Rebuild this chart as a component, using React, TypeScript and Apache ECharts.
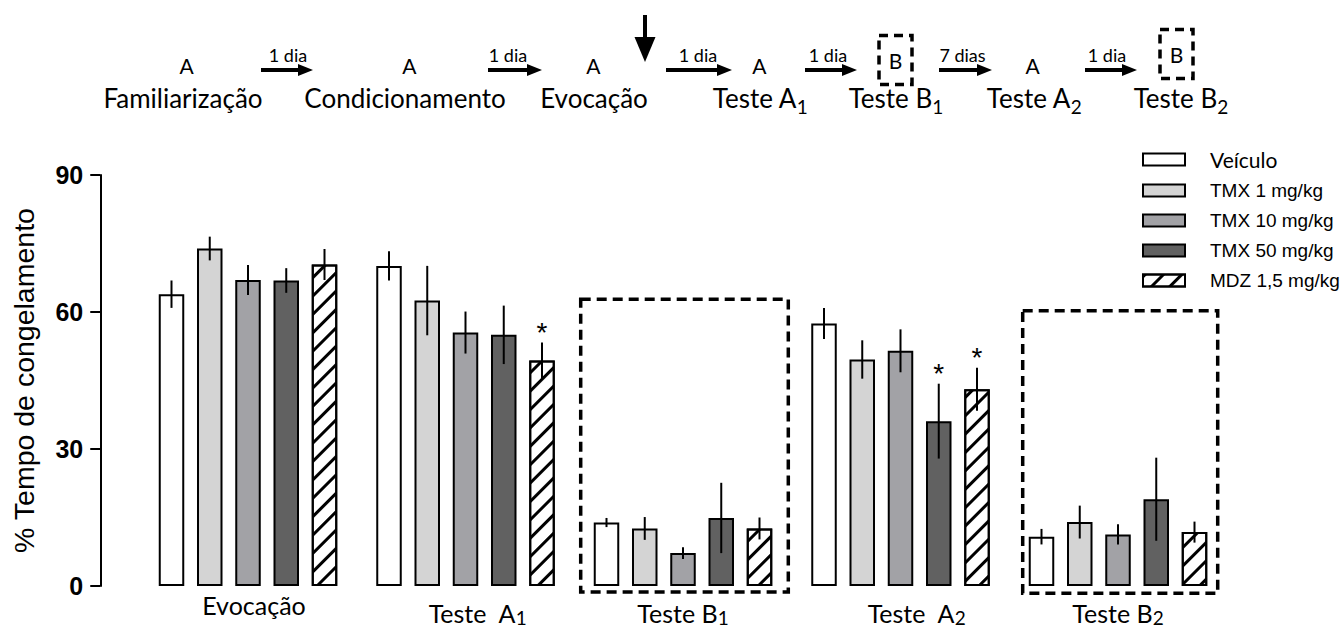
import React, { useEffect, useRef } from 'react';
import * as echarts from 'echarts';

// ---------- data ----------
const categories = ['Evocação', 'Teste  A1', 'Teste B1', 'Teste  A2', 'Teste B2'];
const categoryMain = ['Evocação', 'Teste  A', 'Teste B', 'Teste  A', 'Teste B'];
const categorySub = ['', '1', '1', '2', '2'];
const groupNames = ['Veículo', 'TMX 1 mg/kg', 'TMX 10 mg/kg', 'TMX 50 mg/kg', 'MDZ 1,5 mg/kg'];

const veiculoMean = [63.9, 70.1, 13.9, 57.5, 10.8];
const veiculoSem = [3.0, 3.2, 1.0, 3.4, 1.7];
const tmx1Mean = [73.9, 62.5, 12.6, 49.6, 14.0];
const tmx1Sem = [2.6, 7.6, 2.5, 4.2, 3.6];
const tmx10Mean = [67.0, 55.5, 7.2, 51.5, 11.3];
const tmx10Sem = [3.3, 4.6, 1.3, 4.7, 2.2];
const tmx50Mean = [66.9, 55.0, 14.9, 36.1, 19.0];
const tmx50Sem = [2.7, 6.4, 7.7, 8.2, 9.1];
const mdzMean = [70.4, 49.4, 12.6, 43.1, 11.8];
const mdzSem = [3.4, 3.9, 2.4, 4.7, 2.3];

// significance marks (*) per group, per category
const veiculoSig = [0, 0, 0, 0, 0];
const tmx1Sig = [0, 0, 0, 0, 0];
const tmx10Sig = [0, 0, 0, 0, 0];
const tmx50Sig = [0, 0, 0, 1, 0];
const mdzSig = [0, 1, 0, 1, 0];

const yTicks = [0, 30, 60, 90];

// timeline (protocol) texts
const timelineContexts = ['A', 'A', 'A', 'A', 'B', 'A', 'B'];
const timelineStages = ['Familiarização', 'Condicionamento', 'Evocação', 'Teste A', 'Teste B', 'Teste A', 'Teste B'];
const timelineSubs = ['', '', '', '1', '1', '2', '2'];
const timelineIntervals = ['1 dia', '1 dia', '1 dia', '1 dia', '7 dias', '1 dia'];

// dashed boxes around the context-B tests (category index, top value, bottom value)
const boxCategories = [2, 4];
const boxTopValues = [62.8, 60.3];
const boxBottomValues = [-1.3, -1.6];

// ---------- layout / styles ----------
const means = [veiculoMean, tmx1Mean, tmx10Mean, tmx50Mean, mdzMean];
const sems = [veiculoSem, tmx1Sem, tmx10Sem, tmx50Sem, mdzSem];
const sigs = [veiculoSig, tmx1Sig, tmx10Sig, tmx50Sig, mdzSig];
const colors = ['#ffffff', '#d4d4d4', '#a2a2a6', '#616161', '#ffffff'];
const BAR_W = 25.5;
const BAR_GAP = '50%';

const stageX = [183, 405, 594, 760, 896, 1034, 1181];
const contextX = [186.7, 409.3, 593.3, 759.3, 895.5, 1032.7, 1176.5];
const contextY = [65, 65, 65, 65, 60, 65, 54];
const arrowX = [[261, 313], [488, 542], [666, 732], [805, 857], [939, 992], [1085, 1137]];
const intervalX = [288, 508, 698, 828, 962.5, 1107];
const boxLeftPx = [-102.3, -95.3];
const boxRightPx = [105.3, 99.7];
const labelPadLeft = [12, 24, 0, 32, 0];

const CAL = 'Lato, Carlito, Calibri, sans-serif';
const ARIAL = '"Liberation Sans", Arial, sans-serif';

function buildTimeline(): any[] {
  const els: any[] = [];
  timelineStages.forEach((st, i) => {
    const sub = timelineSubs[i];
    els.push({
      type: 'text',
      x: stageX[i],
      y: 80,
      style: {
        text: sub ? `{m|${st}}{s|${sub}}` : `{m|${st}}`,
        align: 'center',
        verticalAlign: 'top',
        fill: '#000',
        rich: {
          m: { fontSize: 26, fontFamily: CAL, lineHeight: 40, verticalAlign: 'top', padding: [4.5, 0, 0, 0], fill: '#000' },
          s: { fontSize: 19, fontFamily: CAL, lineHeight: 40, verticalAlign: 'top', padding: [16.5, 0, 0, 0], fill: '#000' },
        },
      },
    });
    els.push({
      type: 'text',
      x: contextX[i],
      y: contextY[i],
      style: {
        text: timelineContexts[i],
        fontSize: 21,
        fontFamily: CAL,
        fill: '#000',
        align: 'center',
        verticalAlign: 'middle',
      },
    });
    if (timelineContexts[i] === 'B') {
      els.push({
        type: 'rect',
        shape: { x: contextX[i] - 16.5, y: contextY[i] - 24.5, width: 33, height: 49 },
        style: { fill: 'none', stroke: '#000', lineWidth: 3.5, lineDash: [9, 6] },
      });
    }
  });
  timelineIntervals.forEach((t, i) => {
    const [x1, x2] = arrowX[i];
    els.push({
      type: 'line',
      shape: { x1, y1: 70, x2: x2 - 12, y2: 70 },
      style: { stroke: '#000', lineWidth: 4 },
    });
    els.push({
      type: 'polygon',
      shape: { points: [[x2 - 15, 64], [x2, 70], [x2 - 15, 76]] },
      style: { fill: '#000' },
    });
    els.push({
      type: 'text',
      x: intervalX[i],
      y: 54.5,
      style: { text: t, fontSize: 18, fontFamily: CAL, fill: '#000', align: 'center', verticalAlign: 'middle' },
    });
  });
  // down arrow (treatment)
  els.push({ type: 'line', shape: { x1: 645, y1: 15, x2: 645, y2: 40 }, style: { stroke: '#000', lineWidth: 4 } });
  els.push({ type: 'polygon', shape: { points: [[634.5, 37], [655.5, 37], [645, 62]] }, style: { fill: '#000' } });
  return els;
}

const hatch = {
  symbol: 'rect',
  symbolSize: 1,
  dashArrayX: [1, 0],
  dashArrayY: [3, 10],
  rotation: -Math.PI / 4,
  color: '#000',
};

export default function App() {
  const ref = useRef<HTMLDivElement>(null);
  useEffect(() => {
    document.body.style.margin = '0';
    const chart = echarts.init(ref.current as HTMLDivElement, null, { renderer: 'svg' });

    const errData: any[] = [];
    means.forEach((arr, k) => {
      arr.forEach((m, c) => {
        errData.push([c, k, m, sems[k][c], sigs[k][c]]);
      });
    });

    const barSeries = groupNames.map((name, k) => ({
      type: 'bar',
      name,
      data: means[k],
      barWidth: BAR_W,
      barGap: BAR_GAP,
      z: 2,
      itemStyle: {
        color: colors[k],
        borderColor: '#000',
        borderWidth: 2,
        ...(k === 4 ? { decal: hatch } : {}),
      },
    }));

    const labelRich: any = {
      s: { fontSize: 19, fontFamily: CAL, color: '#000', lineHeight: 35, verticalAlign: 'top', padding: [16, 0, 0, 0] },
    };
    categoryMain.forEach((_m, i) => {
      labelRich['m' + i] = {
        fontSize: 25,
        fontFamily: CAL,
        color: '#000',
        lineHeight: 35,
        verticalAlign: 'top',
        padding: [categorySub[i] ? 8 : 0, 0, 0, labelPadLeft[i]],
      };
    });

    const option: any = {
      animation: false,
      backgroundColor: '#fff',
      grid: { left: 139.25, right: 116.25, top: 175, bottom: 44, containLabel: false },
      legend: {
        orient: 'vertical',
        left: 1137,
        top: 144,
        icon: 'rect',
        itemWidth: 42,
        itemHeight: 12,
        itemGap: 11,
        selectedMode: false,
        data: groupNames,
        formatter: (n: string) => (n === 'Veículo' ? `{v|${n}}` : n),
        textStyle: {
          fontFamily: ARIAL,
          fontSize: 19,
          color: '#000',
          lineHeight: 18,
          padding: [0, 0, 0, 20],
          rich: { v: { fontFamily: CAL, fontSize: 21, color: '#000' } },
        },
      },
      xAxis: {
        type: 'category',
        data: categories,
        axisLine: { show: false },
        axisTick: { show: false },
        axisLabel: {
          margin: 6,
          formatter: (_v: string, i: number) => {
            const main = `{m${i}|${categoryMain[i]}}`;
            return categorySub[i] ? `${main}{s|${categorySub[i]}}` : main;
          },
          rich: labelRich,
        },
      },
      yAxis: {
        type: 'value',
        min: yTicks[0],
        max: yTicks[yTicks.length - 1],
        interval: yTicks[1] - yTicks[0],
        offset: 39,
        axisLine: { show: true, lineStyle: { color: '#000', width: 2 } },
        axisTick: { show: true, length: 10, lineStyle: { color: '#000', width: 2 } },
        axisLabel: { color: '#000', fontSize: 25, fontWeight: 'bold', fontFamily: ARIAL, margin: 17 },
        splitLine: { show: false },
        name: '% Tempo de congelamento',
        nameLocation: 'middle',
        nameGap: 62,
        nameTextStyle: { fontSize: 28.5, fontFamily: ARIAL, color: '#000' },
      },
      series: [
        ...barSeries,
        {
          type: 'custom',
          name: 'erro',
          data: errData,
          encode: { x: 0, y: 2 },
          z: 5,
          silent: true,
          renderItem: (_params: any, api: any) => {
            const cat = api.value(0);
            const k = api.value(1);
            const m = api.value(2);
            const e = api.value(3);
            const sig = api.value(4);
            const layout = api.barLayout({ count: 5, barWidth: BAR_W, barGap: BAR_GAP });
            const hi = api.coord([cat, m + e]);
            const lo = api.coord([cat, m - e]);
            const x = hi[0] + layout[k].offsetCenter;
            const children: any[] = [
              {
                type: 'line',
                shape: { x1: x, y1: hi[1], x2: x, y2: lo[1] },
                style: { stroke: '#000', lineWidth: 2 },
              },
            ];
            if (sig) {
              children.push({
                type: 'text',
                x,
                y: hi[1] - 10,
                style: { text: '*', fontSize: 28, fontFamily: ARIAL, fill: '#000', align: 'center', verticalAlign: 'middle' },
              });
            }
            return { type: 'group', children };
          },
        },
      ],
    };
    chart.setOption(option);

    const boxes = boxCategories.map((c, i) => {
      const cx = chart.convertToPixel({ xAxisIndex: 0 }, categories[c]) as number;
      const yTop = chart.convertToPixel({ yAxisIndex: 0 }, boxTopValues[i]) as number;
      const yBot = chart.convertToPixel({ yAxisIndex: 0 }, boxBottomValues[i]) as number;
      const x0 = cx + boxLeftPx[i];
      const x1 = cx + boxRightPx[i];
      return {
        type: 'rect',
        shape: { x: x0, y: yTop, width: x1 - x0, height: yBot - yTop },
        style: { fill: 'none', stroke: '#000', lineWidth: 3.5, lineDash: [10, 6] },
        z: 10,
      };
    });
    chart.setOption({ graphic: [...buildTimeline(), ...boxes] });

    return () => chart.dispose();
  }, []);
  return <div ref={ref} style={{ width: 1343, height: 630, position: 'absolute', left: 0, top: 0 }} />;
}
